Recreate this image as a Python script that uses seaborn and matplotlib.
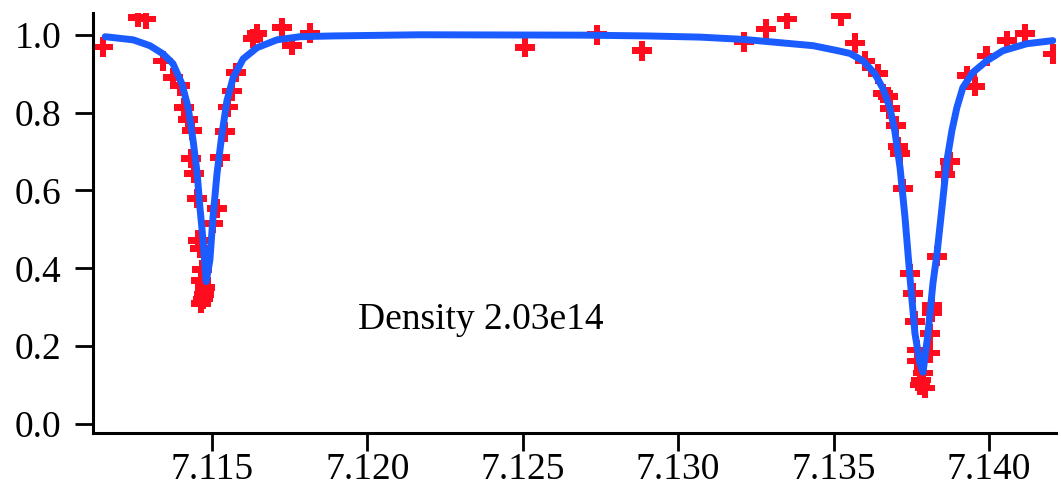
import matplotlib
matplotlib.use("Agg")
import matplotlib.pyplot as plt
import seaborn as sns
import pandas as pd

# measured data points (energy, normalised transmission)
energy = [7.11149, 7.11262, 7.11288, 7.11342, 7.11374, 7.11397, 7.11410, 7.11423,
          7.11436, 7.11432, 7.11442, 7.11452, 7.11455, 7.11461, 7.11465, 7.11468,
          7.11477, 7.11471, 7.11474, 7.11465,
          7.11503, 7.11516, 7.11526, 7.11542, 7.11551, 7.11564, 7.11577, 7.11632,
          7.11645, 7.11725, 7.11757, 7.11815,
          7.12507, 7.12739, 7.12883, 7.13212, 7.13282, 7.13350, 7.13524, 7.13569,
          7.13601, 7.13643, 7.13659, 7.13675, 7.13681, 7.13701, 7.13707, 7.13714,
          7.13723, 7.13746, 7.13755, 7.13762, 7.13768, 7.13768, 7.13788, 7.13781,
          7.13794, 7.13778,
          7.13810, 7.13810, 7.13817, 7.13817, 7.13833, 7.13858, 7.13874, 7.13929,
          7.13955, 7.13993, 7.14058, 7.14116, 7.14206]
transmission = [0.969, 1.044, 1.041, 0.933, 0.890, 0.869, 0.813, 0.782,
                0.754, 0.682, 0.644, 0.579, 0.472, 0.451, 0.369, 0.397,
                0.351, 0.321, 0.333, 0.310,
                0.515, 0.554, 0.685, 0.751, 0.815, 0.856, 0.903, 0.990,
                1.003, 1.018, 0.972, 1.005,
                0.967, 1.000, 0.959, 0.982, 1.015, 1.041, 1.049, 0.979,
                0.933, 0.900, 0.849, 0.841, 0.810, 0.767, 0.713, 0.695,
                0.605, 0.387, 0.336, 0.264, 0.190, 0.162, 0.131, 0.113,
                0.092, 0.100,
                0.182, 0.233, 0.287, 0.305, 0.431, 0.641, 0.674, 0.895,
                0.867, 0.946, 0.985, 1.003, 0.951]

# fitted curve
fit_energy = [7.11156, 7.11246, 7.11300, 7.11342, 7.11374, 7.11403, 7.11423, 7.11439,
              7.11452, 7.11461, 7.11471, 7.11481, 7.11493, 7.11503, 7.11516, 7.11532,
              7.11548, 7.11568, 7.11600, 7.11645, 7.11709, 7.11783, 7.11889, 7.12169,
              7.12700, 7.12900, 7.13070, 7.13212, 7.13434, 7.13514, 7.13553, 7.13595,
              7.13633, 7.13659, 7.13681, 7.13697, 7.13714, 7.13730, 7.13746, 7.13762,
              7.13778, 7.13788, 7.13804, 7.13820, 7.13833, 7.13849, 7.13865, 7.13881,
              7.13897, 7.13916, 7.13948, 7.13993, 7.14045, 7.14122, 7.14206]
fit_value = [0.995, 0.987, 0.972, 0.951, 0.926, 0.874, 0.813, 0.728,
             0.644, 0.556, 0.472, 0.366, 0.421, 0.531, 0.644, 0.746,
             0.831, 0.890, 0.938, 0.967, 0.987, 0.995, 0.997, 1.000,
             0.999, 0.997, 0.994, 0.988, 0.972, 0.959, 0.952, 0.933,
             0.900, 0.862, 0.813, 0.754, 0.659, 0.531, 0.377, 0.233,
             0.156, 0.133, 0.233, 0.362, 0.438, 0.556, 0.677, 0.754,
             0.813, 0.864, 0.903, 0.933, 0.959, 0.977, 0.985]

x_ticks = [7.115, 7.120, 7.125, 7.130, 7.135, 7.140]
y_ticks = [0.0, 0.2, 0.4, 0.6, 0.8, 1.0]
annotation = "Density 2.03e14"

sns.set_theme(style="ticks")
plt.rcParams["font.family"] = ["Liberation Serif", "DejaVu Serif"]

pts = pd.DataFrame({"energy": energy, "transmission": transmission})
fit = pd.DataFrame({"energy": fit_energy, "value": fit_value})

fig = plt.figure(figsize=(10.61, 4.95), dpi=100)
ax = fig.add_axes([0.0877, 0.1253, 0.9076, 0.8485])

sns.scatterplot(data=pts, x="energy", y="transmission", ax=ax, marker="P",
                s=200, color="#ff0d1f", edgecolor="none", linewidth=0, zorder=2)
sns.lineplot(data=fit, x="energy", y="value", ax=ax, color="#1a5cff",
             linewidth=5, zorder=3, sort=False)

ax.set_xlim(7.11117, 7.14216)
ax.set_ylim(-0.023, 1.056)
ax.set_xticks(x_ticks)
ax.set_xticklabels([f"{v:.3f}" for v in x_ticks])
ax.set_yticks(y_ticks)
ax.set_yticklabels([f"{v:.1f}" for v in y_ticks])
ax.set_xlabel("")
ax.set_ylabel("")

for side in ("top", "right"):
    ax.spines[side].set_visible(False)
for side in ("left", "bottom"):
    ax.spines[side].set_linewidth(2.2)
    ax.spines[side].set_color("black")

ax.tick_params(axis="x", length=13, width=2, pad=1, labelsize=27, colors="black")
ax.tick_params(axis="y", length=13, width=2, pad=10, labelsize=27, colors="black")

ax.text(7.1197, 0.267, annotation, fontsize=27, ha="left", va="center", color="black")

fig.savefig("out.png", dpi=100)
